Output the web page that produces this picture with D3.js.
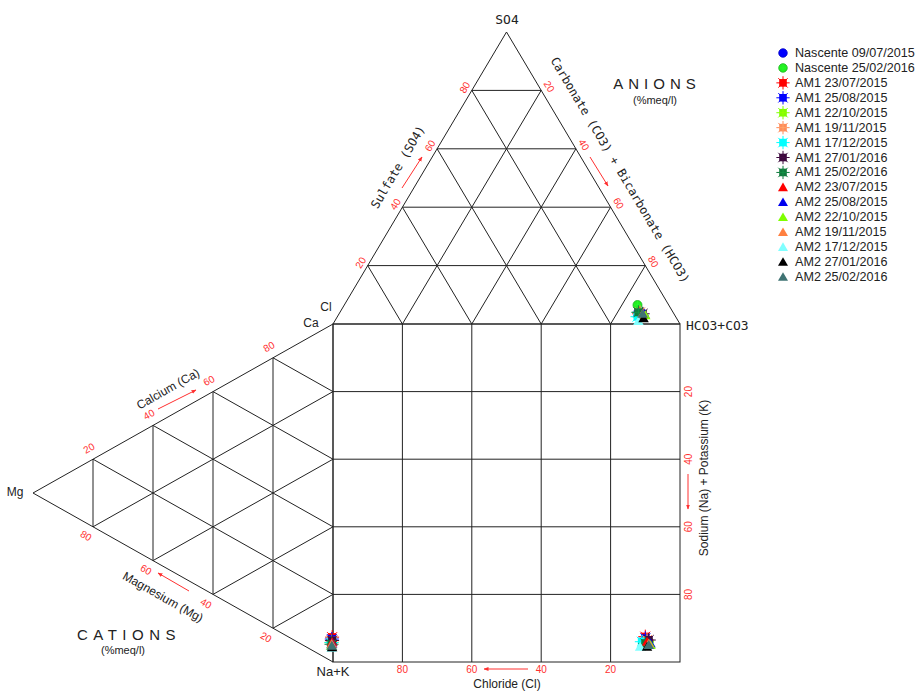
<!DOCTYPE html>
<html><head><meta charset="utf-8">
<script src="https://cdn.jsdelivr.net/npm/d3@7"></script>
<style>body{margin:0;background:#fff}svg{display:block}</style>
</head><body>
<svg id="c" width="918" height="691"></svg>
<script>
// ---- data ----
const sampleNames = ["Nascente 09/07/2015","Nascente 25/02/2016","AM1 23/07/2015","AM1 25/08/2015","AM1 22/10/2015","AM1 19/11/2015","AM1 17/12/2015","AM1 27/01/2016","AM1 25/02/2016","AM2 23/07/2015","AM2 25/08/2015","AM2 22/10/2015","AM2 19/11/2015","AM2 17/12/2015","AM2 27/01/2016","AM2 25/02/2016"];
const sampleGroup = ["N","N","AM1","AM1","AM1","AM1","AM1","AM1","AM1","AM2","AM2","AM2","AM2","AM2","AM2","AM2"];
const sampleColors = ["#0000ff","#22ee22","#ff0000","#0000ff","#7fff00","#ff8c5a","#00ffff","#3d0a3d","#107a3c","#ff0000","#0000ee","#7fff00","#ff8040","#80ffff","#000000","#3f7373"];
// anions (% meq/l)
const so4Pct  = [4, 6.5, 3.5, 3, 3, 4, 2.5, 3.5, 4, 3, 3.5, 3, 3.5, 1, 2, 3.5];
const hco3Pct = [86, 84.5, 86.5, 87, 87.5, 86.5, 86.5, 87.5, 86, 87.5, 88, 88.5, 87.5, 87.5, 88.5, 87.5];
// cations (% meq/l)
const mgPct  = [0.5, 0.5, 0.3, 0.4, 0.5, 0.4, 0.5, 0.3, 0.5, 0.3, 0.3, 0.5, 0.4, 0.5, 0.3, 0.4];
const nakPct = [93.5, 94, 92.5, 93, 94, 93.5, 94, 93.5, 94.5, 94, 94.5, 95, 94.5, 95.5, 95.5, 95];
const gridTicks = [20, 40, 60, 80];

// ---- geometry via scales ----
const svg = d3.select("#c");
const xSq = d3.scaleLinear().domain([0,100]).range([333,680]);   // HCO3 direction / (100-Cl)
const ySq = d3.scaleLinear().domain([0,100]).range([324,662]);   // Na+K down
const ySO4 = d3.scaleLinear().domain([0,100]).range([324,32]);   // SO4 up
const xMg = d3.scaleLinear().domain([0,100]).range([333,33]);    // Mg leftwards

function topPt(so4, hco3){ return [xSq(hco3 + so4/2), ySO4(so4)]; }
function leftPt(mg, nak){ return [xMg(mg), ySq(nak + mg/2)]; }
function sqPt(cl, nak){ return [xSq(100-cl), ySq(nak)]; }

const line = d3.line();
const gGrid = svg.append("g").attr("fill","none").attr("stroke","#222").attr("stroke-width",1);
function seg(a,b){ gGrid.append("path").attr("d", line([a,b])); }

// top triangle
gGrid.append("path").attr("d", line([topPt(0,0), topPt(100,0), topPt(0,100)]) + "Z");
gridTicks.forEach(v=>{
  seg(topPt(v,0), topPt(v,100-v));
  seg(topPt(0,v), topPt(100-v,v));
  seg(topPt(0,100-v), topPt(100-v,0));
});
// left triangle
gGrid.append("path").attr("d", line([leftPt(0,0), leftPt(100,0), leftPt(0,100)]) + "Z");
gridTicks.forEach(v=>{
  seg(leftPt(v,0), leftPt(v,100-v));        // Mg = v
  seg(leftPt(0,v), leftPt(100-v,v));        // NaK = v
  seg(leftPt(0,100-v), leftPt(100-v,0));    // Ca = v
});
// square
gGrid.append("rect").attr("x",xSq(0)).attr("y",ySq(0)).attr("width",xSq(100)-xSq(0)).attr("height",ySq(100)-ySq(0));
gridTicks.forEach(v=>{
  seg([xSq(v),ySq(0)],[xSq(v),ySq(100)]);
  seg([xSq(0),ySq(v)],[xSq(100),ySq(v)]);
});

// ---- labels ----
const red = "#ff3030";
const sans = "'Liberation Sans', Arial, sans-serif";
const mono = "'DejaVu Sans Mono', monospace";
function txt(x,y,s,o={}){
  const t = svg.append("text").attr("x",x).attr("y",y).text(s)
    .attr("font-family",o.ff||sans).attr("font-size",o.fs||12)
    .attr("fill",o.fill||"#222").attr("text-anchor",o.anchor||"middle")
    .attr("dominant-baseline","central");
  if(o.rot) t.attr("transform",`rotate(${o.rot},${x},${y})`);
  if(o.ls) t.attr("letter-spacing",o.ls);
  return t;
}
const angTop = Math.atan2(ySO4(100)-ySO4(0), xSq(50)-xSq(0))*180/Math.PI; // ~ -59
const angLeft = Math.atan2(ySq(50)-ySq(0), xMg(100)-xMg(0))*180/Math.PI; // ~ 150
const angL = -(180-angLeft); // ~ -29.3

gridTicks.forEach(v=>{
  let p = topPt(v,0); txt(p[0]-7,p[1]-3,v,{fill:red,fs:10,rot:angTop});
  p = topPt(100-v,v); txt(p[0]+8,p[1]-4,v,{fill:red,fs:10,rot:-angTop});
  p = leftPt(100-v,0); txt(p[0]-4,p[1]-11,v,{fill:red,fs:10,rot:angL});
  p = leftPt(v,100-v); txt(p[0]-7,p[1]+9,v,{fill:red,fs:10,rot:-angL});
  txt(xSq(100-v), 669, v, {fill:red,fs:10});
  txt(689, ySq(v), v, {fill:red,fs:10,rot:-90});
});

txt(507,19,"SO4",{ff:mono,fs:13});
txt(686,325,"HCO3+CO3",{ff:mono,fs:13,anchor:"start"});
txt(326,307,"Cl");
txt(311,323,"Ca");
txt(15,492,"Mg");
txt(333,671,"Na+K",{fs:13});
txt(398,167,"Sulfate (SO4)",{ff:mono,fs:12,rot:angTop});
txt(620,170,"Carbonate (CO3) + Bicarbonate (HCO3)",{ff:mono,fs:12,rot:-angTop});
txt(168,389,"Calcium (Ca)",{rot:angL});
txt(163,597,"Magnesium (Mg)",{rot:-angL});
txt(507,684,"Chloride (Cl)");
txt(704,478,"Sodium (Na) + Potassium (K)",{rot:-90});
txt(657,83,"ANIONS",{fs:15,ls:5});
txt(655,100,"(%meq/l)",{fs:11});
txt(129,634,"CATIONS",{fs:15,ls:5.5});
txt(123,650,"(%meq/l)",{fs:11});

// arrows
const defs = svg.append("defs");
defs.append("marker").attr("id","ah").attr("viewBox","0 0 10 10").attr("refX",9).attr("refY",5)
  .attr("markerWidth",5).attr("markerHeight",5).attr("orient","auto")
  .append("path").attr("d","M0,1L10,5L0,9Z").attr("fill",red);
function arrow(a,b){ svg.append("path").attr("d",line([a,b])).attr("stroke",red).attr("stroke-width",1).attr("fill","none").attr("marker-end","url(#ah)"); }
arrow([402,188],[422,157]);
arrow([590,157],[608,186]);
arrow([158,409],[196,390]);
arrow([189,591],[158,573]);
arrow([528,669],[484,669]);
arrow([688,474],[688,509]);

// ---- markers ----
function drawMarker(g, grp, col, x, y, s){
  s = s||1;
  if(grp==="N"){
    g.append("circle").attr("cx",x).attr("cy",y).attr("r",4.5*s).attr("fill",col).attr("stroke",d3.color(col).darker(0.8)).attr("stroke-width",0.8);
    g.append("path").attr("d",`M${x-4*s},${y}H${x+4*s}M${x},${y-4*s}V${y+4*s}`).attr("stroke",d3.color(col).brighter(0.6)).attr("stroke-width",0.6);
  } else if(grp==="AM1"){
    const r=7*s; let d="";
    for(let k=0;k<8;k++){const a=k*Math.PI/4; d+=`M${x},${y}L${x+r*Math.cos(a)},${y+r*Math.sin(a)}`;}
    g.append("path").attr("d",d).attr("stroke",col).attr("stroke-width",1);
    g.append("rect").attr("x",x-4*s).attr("y",y-4*s).attr("width",8*s).attr("height",8*s).attr("fill",col);
    g.append("path").attr("d",`M${x-4*s},${y}H${x+4*s}M${x},${y-4*s}V${y+4*s}`).attr("stroke",d3.color(col).brighter(0.7)).attr("stroke-width",0.6);
  } else {
    const h=5*s;
    g.append("path").attr("d",`M${x},${y-h}L${x+h*1.05},${y+h*0.8}L${x-h*1.05},${y+h*0.8}Z`).attr("fill",col);
  }
}
const gPts = svg.append("g");
sampleNames.forEach((n,i)=>{
  const cl = 100 - so4Pct[i] - hco3Pct[i];
  const pT = topPt(so4Pct[i], hco3Pct[i]);
  const pL = leftPt(mgPct[i], nakPct[i]);
  const pS = sqPt(cl, nakPct[i]);
  [pT,pL,pS].forEach(p=>drawMarker(gPts, sampleGroup[i], sampleColors[i], p[0], p[1]));
});

// ---- legend ----
const gLeg = svg.append("g");
sampleNames.forEach((n,i)=>{
  const y = 53 + i*14.93;
  drawMarker(gLeg, sampleGroup[i], sampleColors[i], 783, y, 0.95);
  txt(795, y, n, {anchor:"start", fs:12.6});
});
</script>
</body></html>
